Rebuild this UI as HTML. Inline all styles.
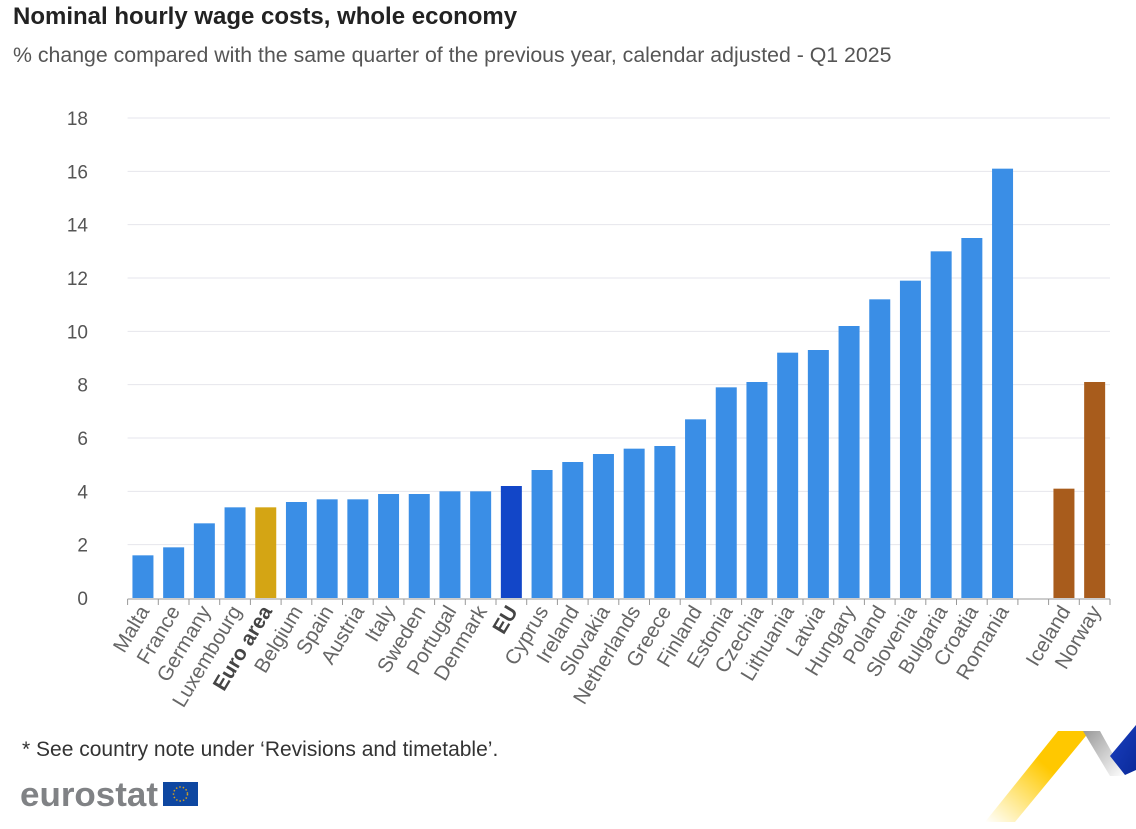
<!DOCTYPE html>
<html><head><meta charset="utf-8"><style>
body{margin:0;background:#fff;font-family:"Liberation Sans",Arial,sans-serif}
svg text{font-family:"Liberation Sans",Arial,sans-serif}
</style></head><body>
<svg width="1136" height="824" viewBox="0 0 1136 824">
<defs>
<linearGradient id="gy" x1="0" y1="1" x2="1" y2="0"><stop offset="0" stop-color="#ffd000" stop-opacity="0"/><stop offset="0.6" stop-color="#ffc800"/></linearGradient>
<linearGradient id="gg" x1="0" y1="0" x2="1" y2="1"><stop offset="0" stop-color="#999"/><stop offset="1" stop-color="#fff"/></linearGradient>
<linearGradient id="gb" x1="0" y1="0" x2="1" y2="1"><stop offset="0" stop-color="#1a3fc0"/><stop offset="1" stop-color="#0a2a9a"/></linearGradient>
</defs>
<text x="13" y="24" font-size="24" font-weight="bold" fill="#222">Nominal hourly wage costs, whole economy</text>
<text x="13" y="62" font-size="21.3" fill="#555">% change compared with the same quarter of the previous year, calendar adjusted - Q1 2025</text>
<g id="grid"></g><g id="bars"></g><g id="xlabels"></g>
<text x="22" y="756" font-size="21" fill="#333">* See country note under ‘Revisions and timetable’.</text>
<text x="20" y="806" font-size="34" font-weight="bold" fill="#808285" textLength="138" lengthAdjust="spacingAndGlyphs">eurostat</text>
<rect x="163" y="782" width="35" height="24" fill="#0e47a1"/>
<circle cx="180.5" cy="794" r="7" fill="none" stroke="#d4a020" stroke-width="1.5" stroke-dasharray="1.5 2"/>
<polygon points="985,822 1058,731 1090,731 1015,822" fill="url(#gy)"/>
<polygon points="1083,731 1100,731 1125,776 1110,776" fill="url(#gg)"/>
<polygon points="1110,756 1136,725 1136,770 1125,775" fill="url(#gb)"/>
</svg>
<script>
const categories=["Malta","France","Germany","Luxembourg","Euro area","Belgium","Spain","Austria","Italy","Sweden","Portugal","Denmark","EU","Cyprus","Ireland","Slovakia","Netherlands","Greece","Finland","Estonia","Czechia","Lithuania","Latvia","Hungary","Poland","Slovenia","Bulgaria","Croatia","Romania","","Iceland","Norway"];
const values=[1.6,1.9,2.8,3.4,3.4,3.6,3.7,3.7,3.9,3.9,4.0,4.0,4.2,4.8,5.1,5.4,5.6,5.7,6.7,7.9,8.1,9.2,9.3,10.2,11.2,11.9,13.0,13.5,16.1,null,4.1,8.1];
const yTicks=[0,2,4,6,8,10,12,14,16,18];
const NS="http://www.w3.org/2000/svg";
const x0=127.6,x1=1110,y0=598,yTop=118,yMax=18;
const slot=(x1-x0)/categories.length;
const ys=v=>y0-(v/yMax)*(y0-yTop);
const xs=i=>x0+slot*(i+0.5);
function mk(t,a,p){const e=document.createElementNS(NS,t);for(const k in a)e.setAttribute(k,a[k]);p.appendChild(e);return e;}
const grid=document.getElementById('grid');
yTicks.forEach(t=>{
  if(t>0){const l=mk('line',{x1:x0,x2:x1,y1:ys(t),y2:ys(t),stroke:'#e6e6ec','stroke-width':1},grid);
  
  }
  const tx=mk('text',{x:88,y:ys(t)+7,'font-size':19,fill:'#555','text-anchor':'end'},grid);tx.textContent=t;
  
  
});
const ax=mk('line',{x1:x0,x2:x1,y1:y0+1,y2:y0+1,stroke:'#999','stroke-width':1},grid);


for(let i=0;i<=categories.length;i++){mk('line',{x1:x0+slot*i,x2:x0+slot*i,y1:y0+1,y2:y0+7,stroke:'#999'},grid);}
const bars=document.getElementById('bars'),xl=document.getElementById('xlabels');
categories.forEach((c,i)=>{
  const v=values[i];
  if(v!=null){
    let col='#3a8ee6';
    if(c==='Euro area')col='#d4a514';else if(c==='EU')col='#1246c8';else if(c==='Iceland'||c==='Norway')col='#a85c1c';
    const r=mk('rect',{x:xs(i)-10.5,y:ys(v),width:21,height:y0-ys(v),fill:col},bars);
    
    
  }
  if(c){
    const t=mk('text',{x:0,y:0,'font-size':20.5,fill:'#666','text-anchor':'end',transform:`translate(${xs(i)+7},${y0+13}) rotate(-59)`},xl);
    if(c==='EU'||c==='Euro area'){t.setAttribute('font-weight','bold');t.setAttribute('fill','#444');}
    t.textContent=c;
    
    
  }
});
</script>
</body></html>
